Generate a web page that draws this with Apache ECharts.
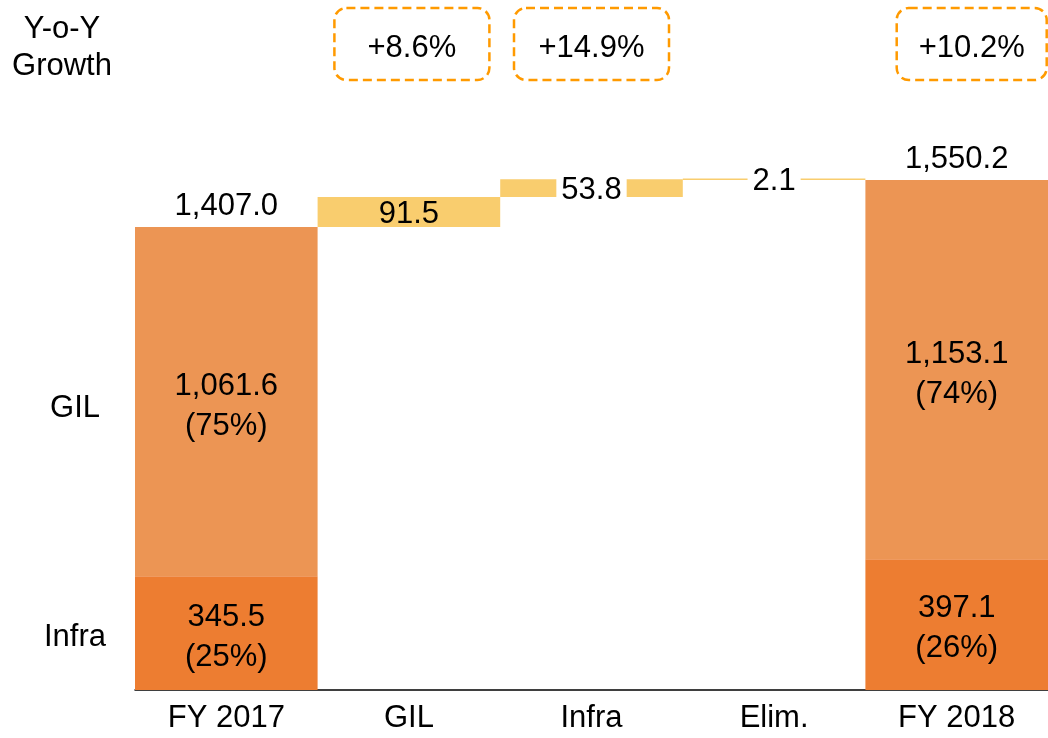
<!DOCTYPE html>
<html><head><meta charset="utf-8">
<script src="https://cdn.jsdelivr.net/npm/echarts@6/dist/echarts.min.js"></script>
<style>html,body{margin:0;padding:0;background:#fff}#c{width:1048px;height:738px}</style>
</head><body><div id="c"></div>
<script>
const categories = ['FY 2017', 'GIL', 'Infra', 'Elim.', 'FY 2018'];
const infraValues = [345.5, null, null, null, 397.1];
const gilValues = [1061.6, null, null, null, 1153.1];
const shareInfra = ['25%', null, null, null, '26%'];
const shareGil = ['75%', null, null, null, '74%'];
const totals = [1407.0, null, null, null, 1550.2];
const deltaBase = [null, 1407.0, 1498.5, 1550.2, null];
const deltaValues = [null, 91.5, 53.8, 2.1, null];
const growthLabels = [null, '+8.6%', '+14.9%', null, '+10.2%'];
const rowLabels = ['GIL', 'Infra'];

const FONT = 'Liberation Sans, Arial, Helvetica, sans-serif';
const FS = 31;
const fmt = v => v.toLocaleString('en-US', {minimumFractionDigits: 1, maximumFractionDigits: 1});

const chart = echarts.init(document.getElementById('c'));
const option = {
  animation: false,
  textStyle: {fontFamily: FONT},
  grid: {left: 135, right: 0, top: 163.5, bottom: 48},
  xAxis: {
    type: 'category', data: categories,
    axisLine: {lineStyle: {color: '#000', width: 1.5}},
    axisTick: {show: false},
    axisLabel: {color: '#000', fontSize: FS, fontFamily: FONT, margin: 13}
  },
  yAxis: {type: 'value', min: 0, max: 1600, show: false, splitLine: {show: false}},
  series: [
    {name: 'base', type: 'bar', stack: 's', barCategoryGap: 0, silent: true,
     itemStyle: {color: 'transparent'}, data: deltaBase},
    {name: 'Infra', type: 'bar', stack: 's', barCategoryGap: 0,
     itemStyle: {color: '#ED7D31'},
     label: {show: true, position: 'inside', offset: [0, 4], color: '#000', fontSize: FS, lineHeight: 40, fontFamily: FONT,
       formatter: p => fmt(p.value) + '\n(' + shareInfra[p.dataIndex] + ')'},
     data: infraValues},
    {name: 'GIL', type: 'bar', stack: 's', barCategoryGap: 0,
     itemStyle: {color: '#EC9554'},
     label: {show: true, position: 'inside', offset: [0, 5], color: '#000', fontSize: FS, lineHeight: 40, fontFamily: FONT,
       formatter: p => fmt(p.value) + '\n(' + shareGil[p.dataIndex] + ')'},
     data: gilValues},
    {name: 'total', type: 'bar', stack: 's', barCategoryGap: 0, silent: true,
     itemStyle: {color: 'transparent'},
     label: {show: true, position: 'insideBottom', distance: 5, color: '#000', fontSize: FS, fontFamily: FONT,
       formatter: p => fmt(totals[p.dataIndex])},
     data: totals.map(t => t == null ? null : 0.001)},
    {name: 'delta', type: 'bar', stack: 's', barCategoryGap: 0, barMinHeight: 1.5,
     itemStyle: {color: '#F9CD6E'},
     label: {show: true, position: 'inside', color: '#000', fontSize: FS, fontFamily: FONT,
       formatter: p => fmt(p.value)},
     data: deltaValues.map((v, i) => v == null ? null : {
       value: v,
       label: i === 1 ? {offset: [0, 2]} : {backgroundColor: '#fff', padding: [0, 5], offset: [0, 2]}
     })}
  ]
};
chart.setOption(option);

// annotations positioned via the chart's own scales
const g = [];
const yTop = 8, boxH = 72;
const boxW = [0, 155, 155, 0, 150];
const boxShift = [0, 3, 0, 0, 15];
growthLabels.forEach((t, i) => {
  if (!t) return;
  const cx = chart.convertToPixel({xAxisIndex: 0}, categories[i]) + boxShift[i];
  const x = cx - boxW[i] / 2;
  g.push({type: 'rect', shape: {x: x, y: yTop, width: boxW[i], height: boxH, r: 12},
    style: {fill: 'none', stroke: '#FF9A00', lineWidth: 2.5, lineDash: [9, 5]}});
  g.push({type: 'text', x: cx, y: yTop + boxH / 2 + 4,
    style: {text: t, fill: '#000', font: FS + 'px ' + FONT, align: 'center', verticalAlign: 'middle'}});
});
g.push({type: 'text', x: 62, y: 48,
  style: {text: 'Y-o-Y\nGrowth', fill: '#000', font: FS + 'px ' + FONT, align: 'center', verticalAlign: 'middle', lineHeight: 37}});
const gilMid = chart.convertToPixel({yAxisIndex: 0}, infraValues[0] + gilValues[0] / 2);
const infraMid = chart.convertToPixel({yAxisIndex: 0}, infraValues[0] / 2);
g.push({type: 'text', x: 75, y: gilMid + 7,
  style: {text: rowLabels[0], fill: '#000', font: FS + 'px ' + FONT, align: 'center', verticalAlign: 'middle'}});
g.push({type: 'text', x: 75, y: infraMid + 4,
  style: {text: rowLabels[1], fill: '#000', font: FS + 'px ' + FONT, align: 'center', verticalAlign: 'middle'}});
chart.setOption({graphic: g});
</script>
</body></html>
